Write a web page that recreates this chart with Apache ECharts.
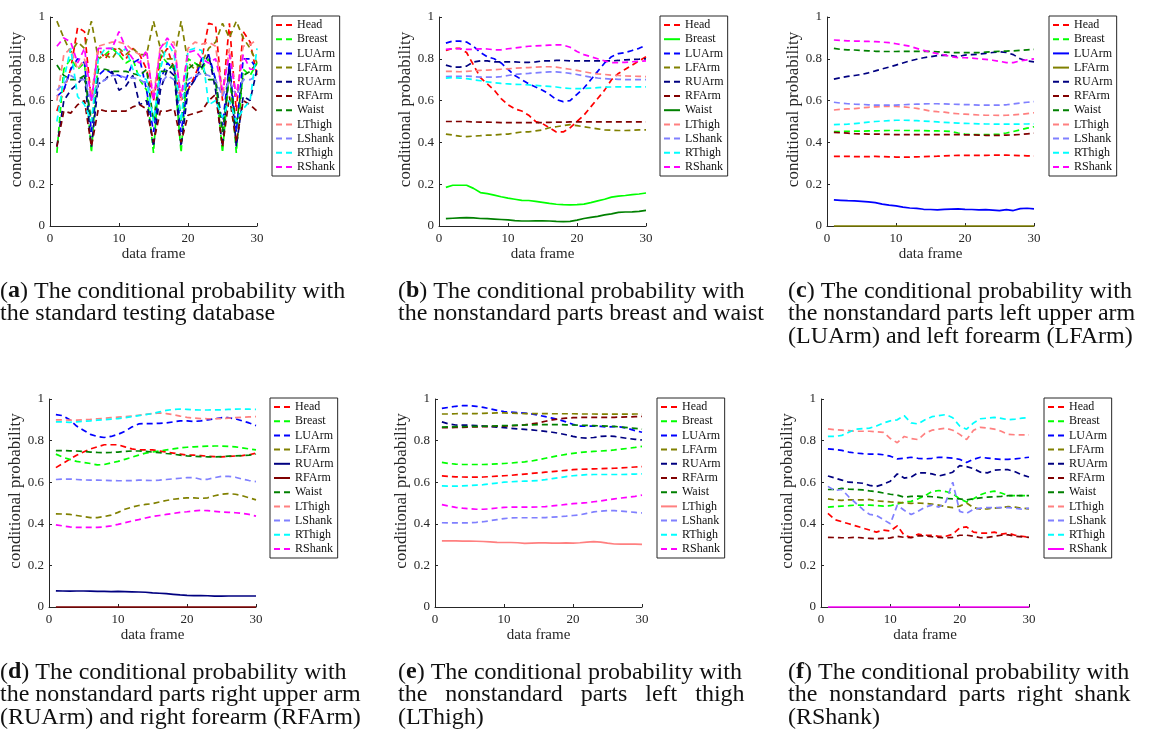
<!DOCTYPE html>
<html>
<head>
<meta charset="utf-8">
<title>conditional probability</title>
<script src="https://cdn.jsdelivr.net/npm/echarts@6/dist/echarts.min.js"></script>
<style>
  html, body { margin: 0; padding: 0; background: #fff; }
  #chart { width: 1153px; height: 731px; }
</style>
</head>
<body>
<div id="chart"></div>
<script>
// x: data frame index
const frames = [1, 2, 3, 4, 5, 6, 7, 8, 9, 10, 11, 12, 13, 14, 15, 16, 17, 18, 19, 20, 21, 22, 23, 24, 25, 26, 27, 28, 29, 30]
const parts = ['Head', 'Breast', 'LUArm', 'LFArm', 'RUArm', 'RFArm', 'Waist', 'LThigh', 'LShank', 'RThigh', 'RShank']
const xTicks = [0, 10, 20, 30]
const yTicks = [0, 0.2, 0.4, 0.6, 0.8, 1]

// (a) standard testing database
const aHead = [0.55, 0.65, 0.75, 0.95, 0.93, 0.60, 0.85, 0.80, 0.85, 0.84, 0.80, 0.85, 0.82, 0.75, 0.60, 0.80, 0.85, 0.75, 0.60, 0.65, 0.72, 0.80, 0.97, 0.96, 0.60, 0.97, 0.55, 0.93, 0.88, 0.72]
const aBreast = [0.35, 0.75, 0.80, 0.75, 0.78, 0.35, 0.80, 0.82, 0.85, 0.82, 0.78, 0.80, 0.70, 0.65, 0.35, 0.82, 0.78, 0.75, 0.35, 0.80, 0.78, 0.75, 0.80, 0.70, 0.35, 0.75, 0.35, 0.75, 0.72, 0.78]
const aLUArm = [0.62, 0.65, 0.75, 0.80, 0.78, 0.45, 0.72, 0.75, 0.73, 0.72, 0.70, 0.78, 0.80, 0.65, 0.45, 0.70, 0.78, 0.75, 0.45, 0.68, 0.70, 0.80, 0.82, 0.70, 0.48, 0.78, 0.45, 0.80, 0.80, 0.75]
const aLFArm = [0.98, 0.90, 0.83, 0.88, 0.85, 0.98, 0.80, 0.82, 0.80, 0.85, 0.82, 0.85, 0.82, 0.82, 0.98, 0.85, 0.80, 0.80, 0.98, 0.78, 0.75, 0.78, 0.85, 0.88, 0.97, 0.90, 0.98, 0.90, 0.85, 0.78]
const aRUArm = [0.38, 0.60, 0.65, 0.68, 0.72, 0.38, 0.68, 0.70, 0.74, 0.65, 0.67, 0.72, 0.58, 0.60, 0.38, 0.65, 0.75, 0.72, 0.38, 0.65, 0.70, 0.76, 0.82, 0.65, 0.38, 0.78, 0.38, 0.62, 0.60, 0.75]
const aRFArm = [0.38, 0.55, 0.54, 0.58, 0.60, 0.38, 0.56, 0.55, 0.55, 0.55, 0.55, 0.57, 0.58, 0.56, 0.40, 0.55, 0.55, 0.56, 0.40, 0.53, 0.54, 0.55, 0.60, 0.63, 0.38, 0.62, 0.40, 0.60, 0.58, 0.55]
const aWaist = [0.77, 0.72, 0.70, 0.70, 0.72, 0.50, 0.75, 0.75, 0.74, 0.74, 0.74, 0.73, 0.72, 0.75, 0.50, 0.74, 0.74, 0.78, 0.50, 0.75, 0.78, 0.76, 0.70, 0.70, 0.45, 0.72, 0.48, 0.72, 0.74, 0.78]
const aLThigh = [0.60, 0.82, 0.85, 0.75, 0.80, 0.62, 0.86, 0.87, 0.88, 0.88, 0.87, 0.84, 0.82, 0.83, 0.62, 0.86, 0.88, 0.88, 0.60, 0.85, 0.88, 0.87, 0.88, 0.86, 0.62, 0.85, 0.62, 0.86, 0.87, 0.89]
const aLShank = [0.65, 0.68, 0.72, 0.70, 0.70, 0.60, 0.68, 0.70, 0.72, 0.72, 0.71, 0.71, 0.70, 0.68, 0.62, 0.68, 0.72, 0.70, 0.62, 0.70, 0.72, 0.73, 0.72, 0.70, 0.62, 0.70, 0.62, 0.70, 0.70, 0.72]
const aRThigh = [0.50, 0.70, 0.85, 0.62, 0.58, 0.50, 0.80, 0.85, 0.85, 0.82, 0.85, 0.75, 0.72, 0.70, 0.50, 0.75, 0.88, 0.82, 0.50, 0.84, 0.85, 0.84, 0.58, 0.60, 0.52, 0.60, 0.50, 0.56, 0.60, 0.85]
const aRShank = [0.86, 0.90, 0.88, 0.78, 0.85, 0.60, 0.85, 0.85, 0.85, 0.93, 0.85, 0.80, 0.78, 0.84, 0.60, 0.85, 0.90, 0.85, 0.62, 0.83, 0.84, 0.80, 0.78, 0.80, 0.65, 0.82, 0.62, 0.82, 0.75, 0.75]

// (b) nonstandard breast and waist
const bHead = [0.84, 0.85, 0.85, 0.83, 0.77, 0.71, 0.68, 0.65, 0.61, 0.58, 0.56, 0.55, 0.53, 0.50, 0.49, 0.47, 0.45, 0.45, 0.47, 0.50, 0.53, 0.57, 0.61, 0.65, 0.70, 0.73, 0.75, 0.77, 0.79, 0.81]
const bBreast = [0.185, 0.195, 0.195, 0.195, 0.18, 0.16, 0.155, 0.148, 0.14, 0.133, 0.128, 0.123, 0.122, 0.118, 0.113, 0.108, 0.104, 0.102, 0.101, 0.102, 0.105, 0.112, 0.12, 0.128, 0.138, 0.143, 0.146, 0.15, 0.153, 0.158]
const bLUArm = [0.875, 0.885, 0.885, 0.88, 0.86, 0.83, 0.81, 0.80, 0.78, 0.75, 0.72, 0.70, 0.68, 0.665, 0.65, 0.63, 0.605, 0.595, 0.60, 0.63, 0.66, 0.70, 0.74, 0.78, 0.81, 0.825, 0.83, 0.84, 0.85, 0.865]
const bLFArm = [0.44, 0.435, 0.43, 0.428, 0.43, 0.432, 0.435, 0.435, 0.438, 0.44, 0.445, 0.45, 0.45, 0.455, 0.46, 0.47, 0.475, 0.48, 0.485, 0.48, 0.475, 0.47, 0.465, 0.46, 0.458, 0.457, 0.457, 0.458, 0.46, 0.46]
const bRUArm = [0.77, 0.76, 0.76, 0.765, 0.785, 0.79, 0.79, 0.785, 0.785, 0.785, 0.785, 0.783, 0.783, 0.785, 0.79, 0.79, 0.792, 0.792, 0.79, 0.79, 0.79, 0.79, 0.79, 0.79, 0.79, 0.792, 0.795, 0.797, 0.798, 0.80]
const bRFArm = [0.50, 0.50, 0.50, 0.50, 0.498, 0.497, 0.497, 0.496, 0.495, 0.495, 0.495, 0.495, 0.495, 0.495, 0.495, 0.496, 0.497, 0.497, 0.498, 0.498, 0.498, 0.498, 0.498, 0.498, 0.498, 0.498, 0.498, 0.498, 0.498, 0.498]
const bWaist = [0.035, 0.037, 0.039, 0.04, 0.039, 0.036, 0.035, 0.033, 0.031, 0.029, 0.026, 0.024, 0.024, 0.025, 0.025, 0.024, 0.022, 0.021, 0.022, 0.028, 0.036, 0.041, 0.046, 0.053, 0.058, 0.065, 0.067, 0.068, 0.07, 0.075]
const bLThigh = [0.74, 0.74, 0.738, 0.74, 0.742, 0.745, 0.746, 0.748, 0.75, 0.752, 0.755, 0.757, 0.758, 0.76, 0.762, 0.762, 0.76, 0.755, 0.75, 0.745, 0.738, 0.732, 0.728, 0.725, 0.722, 0.72, 0.718, 0.717, 0.716, 0.715]
const bLShank = [0.715, 0.716, 0.716, 0.717, 0.715, 0.712, 0.712, 0.712, 0.715, 0.72, 0.725, 0.728, 0.73, 0.733, 0.735, 0.737, 0.737, 0.735, 0.73, 0.725, 0.718, 0.712, 0.708, 0.705, 0.703, 0.702, 0.70, 0.70, 0.70, 0.70]
const bRThigh = [0.708, 0.71, 0.708, 0.705, 0.70, 0.695, 0.69, 0.685, 0.682, 0.68, 0.678, 0.677, 0.675, 0.673, 0.67, 0.668, 0.665, 0.66, 0.658, 0.657, 0.658, 0.66, 0.662, 0.664, 0.665, 0.666, 0.666, 0.666, 0.666, 0.666]
const bRShank = [0.845, 0.848, 0.848, 0.845, 0.845, 0.848, 0.847, 0.843, 0.843, 0.848, 0.852, 0.856, 0.86, 0.862, 0.863, 0.865, 0.867, 0.866, 0.855, 0.835, 0.82, 0.81, 0.80, 0.79, 0.782, 0.782, 0.783, 0.786, 0.788, 0.79]

// (c) nonstandard LUArm and LFArm
const cHead = [0.333, 0.333, 0.333, 0.332, 0.332, 0.332, 0.333, 0.332, 0.331, 0.33, 0.33, 0.33, 0.331, 0.332, 0.333, 0.334, 0.336, 0.337, 0.338, 0.338, 0.338, 0.338, 0.338, 0.339, 0.339, 0.339, 0.338, 0.337, 0.336, 0.335]
const cBreast = [0.452, 0.452, 0.453, 0.454, 0.454, 0.455, 0.455, 0.456, 0.457, 0.457, 0.457, 0.457, 0.456, 0.456, 0.455, 0.455, 0.454, 0.452, 0.445, 0.44, 0.438, 0.437, 0.437, 0.438, 0.44, 0.445, 0.452, 0.46, 0.468, 0.475]
const cLUArm = [0.125, 0.123, 0.121, 0.12, 0.118, 0.115, 0.112, 0.105, 0.10, 0.096, 0.09, 0.086, 0.084, 0.08, 0.079, 0.077, 0.08, 0.081, 0.082, 0.08, 0.079, 0.077, 0.078, 0.076, 0.074, 0.078, 0.074, 0.083, 0.085, 0.082]
const cLFArm = [0, 0, 0, 0, 0, 0, 0, 0, 0, 0, 0, 0, 0, 0, 0, 0, 0, 0, 0, 0, 0, 0, 0, 0, 0, 0, 0, 0, 0, 0]
const cRUArm = [0.703, 0.71, 0.716, 0.72, 0.725, 0.733, 0.742, 0.752, 0.76, 0.77, 0.78, 0.79, 0.798, 0.805, 0.81, 0.815, 0.818, 0.815, 0.81, 0.818, 0.82, 0.822, 0.826, 0.83, 0.834, 0.83, 0.82, 0.80, 0.79, 0.785]
const cRFArm = [0.448, 0.446, 0.444, 0.442, 0.441, 0.44, 0.44, 0.439, 0.438, 0.437, 0.437, 0.437, 0.437, 0.437, 0.437, 0.437, 0.437, 0.437, 0.437, 0.436, 0.436, 0.435, 0.434, 0.434, 0.434, 0.435, 0.436, 0.438, 0.441, 0.444]
const cWaist = [0.85, 0.845, 0.843, 0.842, 0.84, 0.838, 0.836, 0.835, 0.835, 0.835, 0.836, 0.836, 0.836, 0.836, 0.835, 0.833, 0.832, 0.83, 0.83, 0.83, 0.83, 0.83, 0.832, 0.834, 0.836, 0.837, 0.838, 0.84, 0.843, 0.845]
const cLThigh = [0.555, 0.558, 0.56, 0.562, 0.565, 0.568, 0.57, 0.572, 0.572, 0.572, 0.57, 0.567, 0.563, 0.557, 0.55, 0.547, 0.545, 0.54, 0.537, 0.535, 0.533, 0.531, 0.53, 0.53, 0.529, 0.53, 0.532, 0.534, 0.538, 0.542]
const cLShank = [0.592, 0.588, 0.585, 0.583, 0.582, 0.58, 0.578, 0.578, 0.578, 0.578, 0.58, 0.582, 0.583, 0.584, 0.585, 0.585, 0.584, 0.583, 0.582, 0.581, 0.58, 0.578, 0.578, 0.578, 0.578, 0.58, 0.584, 0.588, 0.592, 0.595]
const cRThigh = [0.485, 0.486, 0.487, 0.49, 0.493, 0.497, 0.50, 0.502, 0.504, 0.506, 0.506, 0.505, 0.504, 0.502, 0.50, 0.498, 0.496, 0.494, 0.492, 0.491, 0.49, 0.489, 0.488, 0.488, 0.487, 0.487, 0.487, 0.488, 0.488, 0.489]
const cRShank = [0.89, 0.888, 0.886, 0.885, 0.884, 0.883, 0.882, 0.88, 0.877, 0.872, 0.866, 0.86, 0.85, 0.84, 0.832, 0.825, 0.818, 0.81, 0.806, 0.805, 0.803, 0.80, 0.797, 0.793, 0.788, 0.782, 0.782, 0.79, 0.795, 0.80]

// (d) nonstandard RUArm and RFArm
const dHead = [0.67, 0.69, 0.71, 0.73, 0.745, 0.76, 0.77, 0.78, 0.78, 0.78, 0.77, 0.76, 0.755, 0.755, 0.755, 0.75, 0.745, 0.74, 0.735, 0.73, 0.73, 0.728, 0.725, 0.723, 0.722, 0.724, 0.726, 0.728, 0.732, 0.74]
const dBreast = [0.735, 0.72, 0.71, 0.70, 0.695, 0.69, 0.683, 0.685, 0.693, 0.70, 0.71, 0.72, 0.73, 0.74, 0.745, 0.75, 0.755, 0.76, 0.765, 0.768, 0.77, 0.772, 0.773, 0.774, 0.774, 0.772, 0.77, 0.765, 0.76, 0.755]
const dLUArm = [0.925, 0.92, 0.90, 0.87, 0.85, 0.83, 0.82, 0.815, 0.82, 0.83, 0.845, 0.865, 0.88, 0.882, 0.882, 0.883, 0.885, 0.89, 0.895, 0.895, 0.892, 0.895, 0.90, 0.905, 0.91, 0.91, 0.905, 0.895, 0.885, 0.872]
const dLFArm = [0.448, 0.447, 0.445, 0.44, 0.435, 0.43, 0.43, 0.435, 0.442, 0.455, 0.47, 0.48, 0.488, 0.493, 0.497, 0.505, 0.512, 0.518, 0.522, 0.525, 0.525, 0.522, 0.525, 0.535, 0.542, 0.545, 0.542, 0.535, 0.525, 0.515]
const dRUArm = [0.078, 0.077, 0.076, 0.077, 0.077, 0.076, 0.075, 0.075, 0.074, 0.075, 0.074, 0.073, 0.072, 0.071, 0.068, 0.066, 0.064, 0.061, 0.058, 0.056, 0.055, 0.055, 0.054, 0.052, 0.052, 0.053, 0.053, 0.053, 0.053, 0.053]
const dRFArm = [0, 0, 0, 0, 0, 0, 0, 0, 0, 0, 0, 0, 0, 0, 0, 0, 0, 0, 0, 0, 0, 0, 0, 0, 0, 0, 0, 0, 0, 0]
const dWaist = [0.752, 0.752, 0.751, 0.75, 0.748, 0.745, 0.743, 0.742, 0.743, 0.745, 0.748, 0.75, 0.75, 0.748, 0.745, 0.742, 0.738, 0.735, 0.73, 0.727, 0.725, 0.723, 0.722, 0.722, 0.723, 0.725, 0.727, 0.728, 0.73, 0.735]
const dLThigh = [0.90, 0.90, 0.898, 0.898, 0.90, 0.902, 0.905, 0.907, 0.91, 0.913, 0.915, 0.918, 0.922, 0.926, 0.93, 0.933, 0.93, 0.925, 0.918, 0.912, 0.908, 0.906, 0.905, 0.905, 0.906, 0.908, 0.91, 0.912, 0.914, 0.915]
const dLShank = [0.613, 0.615, 0.615, 0.613, 0.611, 0.61, 0.61, 0.609, 0.608, 0.607, 0.607, 0.608, 0.61, 0.609, 0.608, 0.61, 0.613, 0.616, 0.619, 0.622, 0.622, 0.614, 0.614, 0.622, 0.628, 0.628, 0.624, 0.615, 0.608, 0.603]
const dRThigh = [0.89, 0.89, 0.888, 0.89, 0.893, 0.895, 0.898, 0.90, 0.903, 0.906, 0.91, 0.915, 0.92, 0.925, 0.93, 0.938, 0.945, 0.95, 0.952, 0.95, 0.948, 0.947, 0.947, 0.948, 0.948, 0.95, 0.951, 0.952, 0.951, 0.95]
const dRShank = [0.395, 0.39, 0.385, 0.383, 0.383, 0.383, 0.383, 0.385, 0.39, 0.397, 0.405, 0.413, 0.42, 0.428, 0.435, 0.44, 0.445, 0.45, 0.455, 0.458, 0.462, 0.465, 0.463, 0.46, 0.457, 0.455, 0.453, 0.45, 0.445, 0.437]

// (e) nonstandard LThigh
const eHead = [0.63, 0.628, 0.626, 0.625, 0.624, 0.624, 0.625, 0.627, 0.629, 0.631, 0.633, 0.636, 0.639, 0.642, 0.645, 0.648, 0.651, 0.654, 0.657, 0.66, 0.662, 0.663, 0.664, 0.665, 0.666, 0.667, 0.669, 0.671, 0.673, 0.675]
const eBreast = [0.695, 0.69, 0.687, 0.685, 0.685, 0.685, 0.685, 0.686, 0.688, 0.69, 0.692, 0.695, 0.698, 0.702, 0.708, 0.715, 0.722, 0.728, 0.734, 0.739, 0.743, 0.746, 0.748, 0.75, 0.752, 0.755, 0.759, 0.763, 0.767, 0.772]
const eLUArm = [0.955, 0.96, 0.965, 0.968, 0.968, 0.965, 0.96, 0.953, 0.945, 0.94, 0.937, 0.935, 0.932, 0.928, 0.922, 0.915, 0.908, 0.90, 0.89, 0.878, 0.87, 0.87, 0.87, 0.868, 0.865, 0.867, 0.865, 0.858, 0.848, 0.84]
const eLFArm = [0.928, 0.928, 0.929, 0.93, 0.93, 0.93, 0.931, 0.932, 0.933, 0.933, 0.932, 0.931, 0.93, 0.93, 0.93, 0.93, 0.929, 0.929, 0.929, 0.929, 0.928, 0.928, 0.928, 0.927, 0.927, 0.927, 0.927, 0.927, 0.928, 0.928]
const eRUArm = [0.89, 0.88, 0.875, 0.874, 0.874, 0.872, 0.87, 0.868, 0.865, 0.862, 0.859, 0.856, 0.854, 0.852, 0.848, 0.844, 0.84, 0.835, 0.828, 0.82, 0.814, 0.812, 0.815, 0.82, 0.822, 0.82, 0.815, 0.81, 0.806, 0.803]
const eRFArm = [0.862, 0.862, 0.863, 0.864, 0.865, 0.866, 0.867, 0.868, 0.869, 0.87, 0.871, 0.873, 0.876, 0.88, 0.885, 0.893, 0.90, 0.905, 0.908, 0.91, 0.911, 0.912, 0.912, 0.912, 0.912, 0.912, 0.913, 0.914, 0.915, 0.916]
const eWaist = [0.865, 0.866, 0.867, 0.867, 0.868, 0.868, 0.869, 0.87, 0.871, 0.872, 0.873, 0.874, 0.875, 0.876, 0.877, 0.877, 0.877, 0.877, 0.876, 0.875, 0.874, 0.873, 0.872, 0.871, 0.87, 0.868, 0.865, 0.862, 0.859, 0.855]
const eLThigh = [0.318, 0.318, 0.318, 0.317, 0.317, 0.316, 0.315, 0.313, 0.311, 0.31, 0.31, 0.309, 0.306, 0.307, 0.308, 0.308, 0.307, 0.307, 0.308, 0.307, 0.309, 0.312, 0.314, 0.312, 0.307, 0.303, 0.302, 0.302, 0.302, 0.301]
const eLShank = [0.405, 0.404, 0.404, 0.404, 0.405, 0.407, 0.41, 0.415, 0.42, 0.425, 0.428, 0.429, 0.429, 0.429, 0.429, 0.43, 0.432, 0.434, 0.437, 0.44, 0.443, 0.45, 0.457, 0.461, 0.463, 0.463, 0.461, 0.458, 0.455, 0.452]
const eRThigh = [0.582, 0.581, 0.581, 0.582, 0.584, 0.586, 0.588, 0.592, 0.596, 0.60, 0.602, 0.604, 0.605, 0.606, 0.608, 0.612, 0.617, 0.622, 0.627, 0.631, 0.634, 0.636, 0.637, 0.637, 0.637, 0.637, 0.637, 0.638, 0.639, 0.64]
const eRShank = [0.492, 0.485, 0.479, 0.475, 0.472, 0.47, 0.47, 0.472, 0.476, 0.479, 0.48, 0.48, 0.48, 0.48, 0.481, 0.483, 0.486, 0.489, 0.493, 0.497, 0.499, 0.502, 0.506, 0.51, 0.515, 0.52, 0.524, 0.528, 0.532, 0.538]

// (f) nonstandard RShank
const fHead = [0.45, 0.42, 0.41, 0.40, 0.39, 0.38, 0.37, 0.36, 0.37, 0.365, 0.39, 0.345, 0.335, 0.35, 0.345, 0.345, 0.34, 0.34, 0.35, 0.38, 0.385, 0.36, 0.355, 0.355, 0.36, 0.35, 0.355, 0.345, 0.34, 0.335]
const fBreast = [0.48, 0.483, 0.485, 0.487, 0.49, 0.49, 0.49, 0.488, 0.485, 0.487, 0.495, 0.505, 0.508, 0.52, 0.535, 0.555, 0.56, 0.555, 0.545, 0.52, 0.505, 0.52, 0.54, 0.552, 0.557, 0.548, 0.535, 0.535, 0.535, 0.535]
const fLUArm = [0.76, 0.757, 0.753, 0.745, 0.74, 0.737, 0.735, 0.735, 0.732, 0.725, 0.712, 0.715, 0.72, 0.715, 0.712, 0.715, 0.72, 0.718, 0.716, 0.71, 0.695, 0.71, 0.72, 0.716, 0.712, 0.71, 0.71, 0.712, 0.716, 0.72]
const fLFArm = [0.52, 0.515, 0.513, 0.515, 0.515, 0.515, 0.517, 0.51, 0.508, 0.505, 0.503, 0.50, 0.498, 0.50, 0.498, 0.495, 0.49, 0.482, 0.478, 0.485, 0.50, 0.478, 0.47, 0.472, 0.475, 0.478, 0.483, 0.48, 0.475, 0.472]
const fRUArm = [0.63, 0.62, 0.61, 0.60, 0.598, 0.595, 0.585, 0.58, 0.59, 0.605, 0.64, 0.62, 0.625, 0.645, 0.645, 0.64, 0.63, 0.638, 0.648, 0.68, 0.675, 0.665, 0.648, 0.645, 0.658, 0.66, 0.66, 0.65, 0.635, 0.625]
const fRFArm = [0.335, 0.334, 0.333, 0.333, 0.335, 0.332, 0.33, 0.328, 0.33, 0.332, 0.34, 0.335, 0.333, 0.342, 0.342, 0.338, 0.335, 0.333, 0.335, 0.345, 0.345, 0.34, 0.333, 0.335, 0.34, 0.345, 0.347, 0.34, 0.337, 0.335]
const fWaist = [0.565, 0.565, 0.57, 0.567, 0.565, 0.563, 0.558, 0.555, 0.548, 0.542, 0.538, 0.528, 0.532, 0.533, 0.532, 0.53, 0.527, 0.522, 0.52, 0.52, 0.515, 0.52, 0.525, 0.528, 0.53, 0.532, 0.535, 0.535, 0.535, 0.535]
const fLThigh = [0.856, 0.852, 0.85, 0.848, 0.845, 0.845, 0.845, 0.842, 0.84, 0.81, 0.79, 0.82, 0.81, 0.805, 0.835, 0.85, 0.855, 0.86, 0.85, 0.83, 0.805, 0.85, 0.864, 0.86, 0.855, 0.845, 0.83, 0.828, 0.828, 0.828]
const fLShank = [0.58, 0.56, 0.565, 0.53, 0.50, 0.47, 0.445, 0.44, 0.42, 0.40, 0.49, 0.465, 0.445, 0.46, 0.48, 0.49, 0.48, 0.505, 0.60, 0.46, 0.45, 0.47, 0.475, 0.478, 0.478, 0.478, 0.478, 0.475, 0.47, 0.475]
const fRThigh = [0.82, 0.82, 0.825, 0.84, 0.855, 0.858, 0.86, 0.87, 0.885, 0.895, 0.90, 0.92, 0.885, 0.88, 0.90, 0.915, 0.92, 0.925, 0.91, 0.87, 0.855, 0.885, 0.905, 0.908, 0.912, 0.907, 0.90, 0.903, 0.908, 0.91]
const fRShank = [0, 0, 0, 0, 0, 0, 0, 0, 0, 0, 0, 0, 0, 0, 0, 0, 0, 0, 0, 0, 0, 0, 0, 0, 0, 0, 0, 0, 0, 0]

const captionA = ['a', 'The conditional probability with', 'the standard testing database']
const captionB = ['b', 'The conditional probability with', 'the nonstandard parts breast and waist']
const captionC = ['c', 'The conditional probability with', 'the nonstandard parts left upper arm', '(LUArm) and left forearm (LFArm)']
const captionD = ['d', 'The conditional probability with', 'the nonstandard parts right upper arm', '(RUArm) and right forearm (RFArm)']
const captionE = ['e', 'The conditional probability with', 'the   nonstandard   parts   left   thigh', '(LThigh)']
const captionF = ['f', 'The conditional probability with', 'the  nonstandard  parts  right  shank', '(RShank)']

// matlab-ish colours, one per body part
const colors = ['#ff0000', '#00ff00', '#0000ff', '#808000', '#000080', '#800000', '#008000', '#ff8080', '#8080ff', '#00ffff', '#ff00ff']

const panels = [
  { key: 'a', grid: [50, 17, 207, 209], legend: [272, 16], cap: [0, 280], caption: captionA, solid: [],
    values: [aHead, aBreast, aLUArm, aLFArm, aRUArm, aRFArm, aWaist, aLThigh, aLShank, aRThigh, aRShank] },
  { key: 'b', grid: [439, 17, 207, 209], legend: [660, 16], cap: [398, 280], caption: captionB, solid: ['Breast', 'Waist'],
    values: [bHead, bBreast, bLUArm, bLFArm, bRUArm, bRFArm, bWaist, bLThigh, bLShank, bRThigh, bRShank] },
  { key: 'c', grid: [827, 17, 207, 209], legend: [1049, 16], cap: [788, 280], caption: captionC, solid: ['LUArm', 'LFArm'],
    values: [cHead, cBreast, cLUArm, cLFArm, cRUArm, cRFArm, cWaist, cLThigh, cLShank, cRThigh, cRShank] },
  { key: 'd', grid: [49, 399, 207, 208], legend: [270, 398], cap: [0, 661], caption: captionD, solid: ['RUArm', 'RFArm'],
    values: [dHead, dBreast, dLUArm, dLFArm, dRUArm, dRFArm, dWaist, dLThigh, dLShank, dRThigh, dRShank] },
  { key: 'e', grid: [435, 399, 207, 208], legend: [657, 398], cap: [398, 661], caption: captionE, solid: ['LThigh'],
    values: [eHead, eBreast, eLUArm, eLFArm, eRUArm, eRFArm, eWaist, eLThigh, eLShank, eRThigh, eRShank] },
  { key: 'f', grid: [821, 399, 208, 208], legend: [1044, 398], cap: [788, 661], caption: captionF, solid: ['RShank'],
    values: [fHead, fBreast, fLUArm, fLFArm, fRUArm, fRFArm, fWaist, fLThigh, fLShank, fRThigh, fRShank] },
]

const axisColor = '#262626'
const serif = 'Liberation Serif'

const grids = []
const xAxes = []
const yAxes = []
const legends = []
const titles = []
const series = []

panels.forEach((p, i) => {
  grids.push({ left: p.grid[0], top: p.grid[1], width: p.grid[2], height: p.grid[3] })
  xAxes.push({
    gridIndex: i,
    type: 'value',
    min: xTicks[0],
    max: xTicks[xTicks.length - 1],
    interval: 10,
    name: 'data frame',
    nameLocation: 'middle',
    nameGap: 21,
    nameTextStyle: { color: axisColor, fontFamily: serif, fontSize: 15 },
    axisLine: { onZero: false, lineStyle: { color: axisColor, width: 1 } },
    axisTick: { inside: true, length: 3, lineStyle: { color: axisColor } },
    axisLabel: { color: axisColor, fontFamily: serif, fontSize: 13, margin: 6 },
    splitLine: { show: false },
  })
  yAxes.push({
    gridIndex: i,
    type: 'value',
    min: yTicks[0],
    max: yTicks[yTicks.length - 1],
    interval: 0.2,
    name: 'conditional probability',
    nameLocation: 'middle',
    nameGap: 24,
    nameTextStyle: { color: axisColor, fontFamily: serif, fontSize: 17, padding: [0, 0, 0, 24] },
    axisLine: { show: true, lineStyle: { color: axisColor, width: 1 } },
    axisTick: { show: true, inside: true, length: 3, lineStyle: { color: axisColor } },
    axisLabel: { color: axisColor, fontFamily: serif, fontSize: 13, margin: 5 },
    splitLine: { show: false },
  })
  legends.push({
    orient: 'vertical',
    left: p.legend[0],
    top: p.legend[1],
    padding: [3, 4, 3, 3],
    itemWidth: 16,
    itemHeight: 12,
    itemGap: 2.2,
    selectedMode: false,
    backgroundColor: '#fff',
    borderColor: axisColor,
    borderWidth: 1,
    borderRadius: 0,
    itemStyle: { opacity: 0, borderWidth: 0 },
    data: parts.map(n => p.key + '-' + n),
    formatter: n => n.split('-')[1],
    textStyle: { color: '#111', fontFamily: serif, fontSize: 12, lineHeight: 12 },
  })
  const cap = p.caption
  titles.push({
    left: p.cap[0],
    top: p.cap[1],
    padding: 0,
    text: '({b|' + cap[0] + '}) ' + cap.slice(1).join('\n'),
    textStyle: {
      color: '#111',
      fontFamily: serif,
      fontWeight: 'normal',
      fontSize: 24,
      lineHeight: 22.5,
      rich: { b: { fontWeight: 'bold', fontFamily: serif, fontSize: 24, lineHeight: 22.5, color: '#111' } },
    },
  })
  parts.forEach((name, j) => {
    series.push({
      name: p.key + '-' + name,
      type: 'line',
      xAxisIndex: i,
      yAxisIndex: i,
      symbol: 'none',
      clip: false,
      silent: true,
      lineStyle: { color: colors[j], width: 1.7, type: p.solid.includes(name) ? 'solid' : [6, 4] },
      itemStyle: { color: colors[j] },
      data: frames.map((f, k) => [f, p.values[j][k]]),
    })
  })
})

const chart = echarts.init(document.getElementById('chart'), null, { renderer: 'canvas' })
chart.setOption({
  animation: false,
  backgroundColor: '#fff',
  title: titles,
  grid: grids,
  xAxis: xAxes,
  yAxis: yAxes,
  legend: legends,
  series: series,
})
</script>
</body>
</html>
